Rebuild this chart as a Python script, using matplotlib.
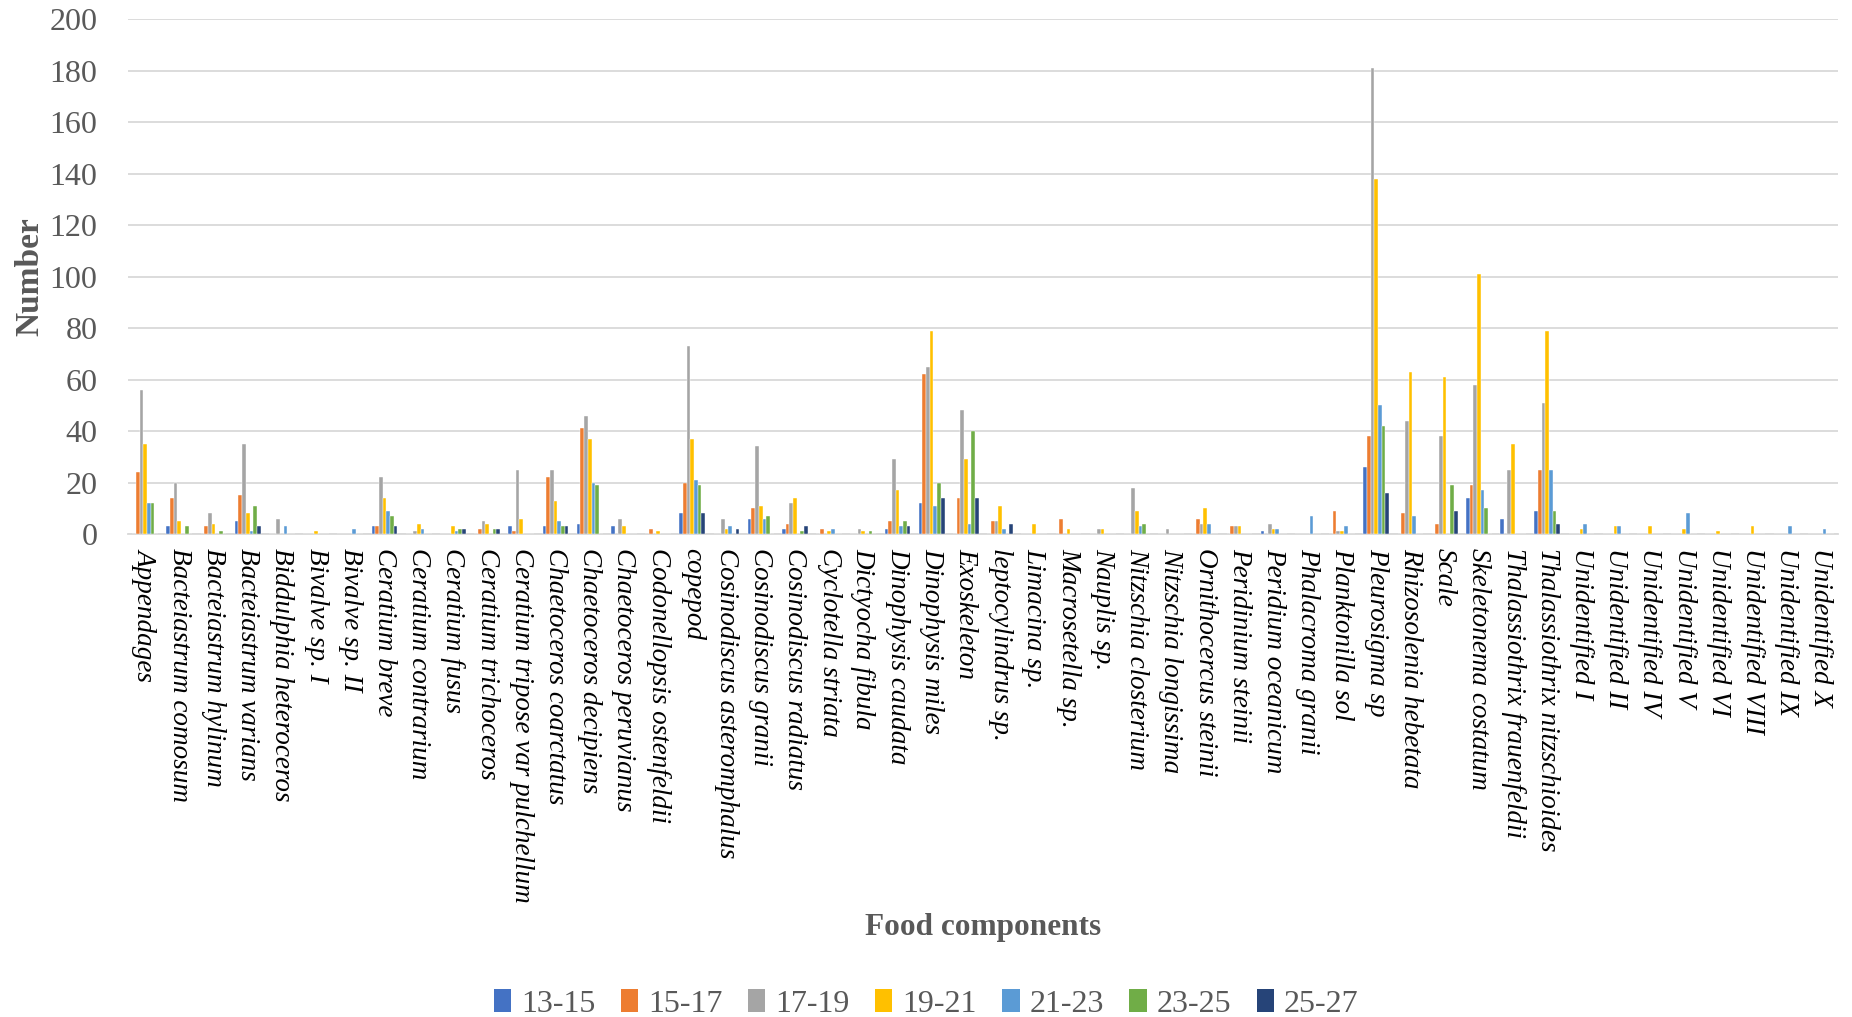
import numpy as np
from matplotlib import pyplot as plt
from matplotlib.patches import Patch

FIG_WIDTH = 18.52
FIG_HEIGHT = 10.17

components = [
    "Appendages", "Bacteiastrum comosum", "Bacteiastrum hylinum", "Bacteiastrum varians",
    "Biddulphia heteroceros", "Bivalve sp. I", "Bivalve sp. II", "Ceratium breve",
    "Ceratium contrarium", "Ceratium fusus", "Ceratium trichoceros",
    "Ceratium tripose var pulchellum", "Chaetoceros coarctatus", "Chaetoceros decipiens",
    "Chaetoceros peruvianus", "Codonellopsis ostenfeldii", "copepod",
    "Cosinodiscus asteromphalus", "Cosinodiscus granii", "Cosinodiscus radiatus",
    "Cyclotella striata", "Dictyocha fibula", "Dinophysis caudata", "Dinophysis miles",
    "Exoskeleton", "leptocylindrus sp.", "Limacina sp.", "Macrosetella sp.", "Nauplis sp.",
    "Nitzschia closterium", "Nitzschia longissima", "Ornithocercus steinii",
    "Peridinium steinii", "Peridium oceanicum", "Phalacroma granii", "Planktonilla sol",
    "Pleurosigma sp", "Rhizosolenia hebetata", "Scale", "Skeletonema costatum",
    "Thalassiothrix frauenfeldii", "Thalassiothrix nitzschioides", "Unidentified I",
    "Unidentified II", "Unidentified IV", "Unidentified V", "Unidentified VI",
    "Unidentified VIII", "Unidentified IX", "Unidentified X",
]

size_classes = ["13-15", "15-17", "17-19", "19-21", "21-23", "23-25", "25-27"]

# counts per size class, one value per food component (same order as components)
cls_13_15 = [0, 3, 0, 5, 0, 0, 0, 3, 0, 0, 0, 3, 3, 4, 3, 0, 8, 0, 6, 2, 0, 0, 2, 12, 0,
             0, 0, 0, 0, 0, 0, 0, 0, 1, 0, 0, 26, 0, 0, 14, 6, 9, 0, 0, 0, 0, 0, 0, 0, 0]
cls_15_17 = [24, 14, 3, 15, 0, 0, 0, 3, 0, 0, 2, 1, 22, 41, 0, 2, 20, 0, 10, 4, 2, 0, 5, 62, 14,
             5, 0, 6, 0, 0, 0, 6, 3, 0, 0, 9, 38, 8, 4, 19, 0, 25, 0, 0, 0, 0, 0, 0, 0, 0]
cls_17_19 = [56, 20, 8, 35, 6, 0, 0, 22, 1, 0, 5, 25, 25, 46, 6, 0, 73, 6, 34, 12, 0, 2, 29, 65, 48,
             5, 0, 0, 2, 18, 2, 4, 3, 4, 0, 1, 181, 44, 38, 58, 25, 51, 0, 0, 0, 0, 0, 0, 0, 0]
cls_19_21 = [35, 5, 4, 8, 0, 1, 0, 14, 4, 3, 4, 6, 13, 37, 3, 1, 37, 2, 11, 14, 1, 1, 17, 79, 29,
             11, 4, 2, 2, 9, 0, 10, 3, 2, 0, 1, 138, 63, 61, 101, 35, 79, 2, 3, 3, 2, 1, 3, 0, 0]
cls_21_23 = [12, 0, 0, 1, 3, 0, 2, 9, 2, 1, 0, 0, 5, 20, 0, 0, 21, 3, 6, 0, 2, 0, 3, 11, 4,
             2, 0, 0, 0, 3, 0, 4, 0, 2, 7, 3, 50, 7, 0, 17, 0, 25, 4, 3, 0, 8, 0, 0, 3, 2]
cls_23_25 = [12, 3, 1, 11, 0, 0, 0, 7, 0, 2, 2, 0, 3, 19, 0, 0, 19, 0, 7, 1, 0, 1, 5, 20, 40,
             0, 0, 0, 0, 4, 0, 0, 0, 0, 0, 0, 42, 0, 19, 10, 0, 9, 0, 0, 0, 0, 0, 0, 0, 0]
cls_25_27 = [0, 0, 0, 3, 0, 0, 0, 3, 0, 2, 2, 0, 3, 0, 0, 0, 8, 2, 0, 3, 0, 0, 3, 14, 14,
             4, 0, 0, 0, 0, 0, 0, 0, 0, 0, 0, 16, 0, 9, 0, 0, 4, 0, 0, 0, 0, 0, 0, 0, 0]

series = [cls_13_15, cls_15_17, cls_17_19, cls_19_21, cls_21_23, cls_23_25, cls_25_27]
colors = ["#4472C4", "#ED7D31", "#A5A5A5", "#FFC000", "#5B9BD5", "#70AD47", "#264478"]

plt.rcParams['font.family'] = ['Liberation Serif', 'DejaVu Serif']

fig = plt.figure(figsize=(FIG_WIDTH, FIG_HEIGHT), dpi=100)
ax = fig.add_axes([0.0691, 0.4749, 0.9233, 0.5064])

x = np.arange(len(components))
bar_w = 0.108
for k, (vals, col) in enumerate(zip(series, colors)):
    offset = (k - 3) * bar_w
    ax.bar(x + offset, vals, width=bar_w, color=col, edgecolor="white", linewidth=0.3, zorder=3)

ax.set_xlim(-0.5, len(components) - 0.5)
ax.set_ylim(0, 200)
ax.set_yticks(range(0, 201, 20))
ax.grid(axis="y", color="#D9D9D9", linewidth=1.3, zorder=0)
for side in ["top", "right", "left"]:
    ax.spines[side].set_visible(False)
ax.spines["bottom"].set_color("#D9D9D9")
ax.spines["bottom"].set_linewidth(1.3)

ax.tick_params(axis="y", length=0, labelsize=23, labelcolor="#595959", pad=22)
ax.tick_params(axis="x", length=0, pad=10)
ax.set_xticks(x)
ax.set_xticklabels(components, rotation=-90, fontstyle="italic", fontsize=19.5,
                   va="top", ha="center")

fig.text(0.016, 0.728, "Number", rotation=90, fontsize=24, fontweight="bold",
         color="#595959", ha="center", va="center")
fig.text(0.531, 0.088, "Food components", fontsize=22.5, fontweight="bold",
         color="#595959", ha="center", va="center")

handles = [Patch(facecolor=c, edgecolor="none") for c in colors]
fig.legend(handles, size_classes, loc="lower center", bbox_to_anchor=(0.5, -0.03), ncol=7,
           frameon=False, fontsize=23, handlelength=0.55, handleheight=0.7,
           handletextpad=0.3, columnspacing=0.8, labelcolor="#595959")

fig.savefig("out.png", dpi=100)
